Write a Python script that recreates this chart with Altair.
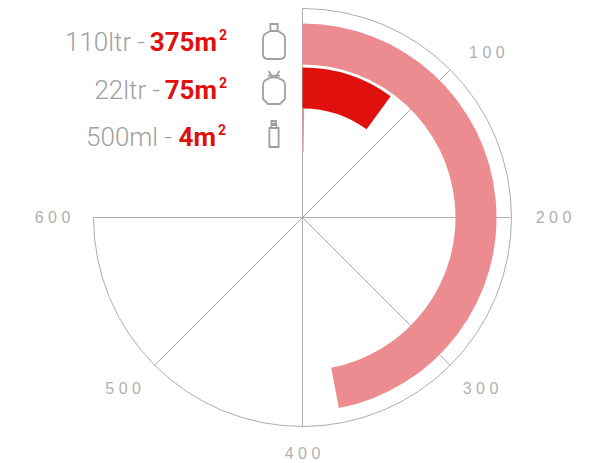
import math
import altair as alt
import pandas as pd

# ---- values
sizes = ["110ltr -", "22ltr -", "500ml -"]
area_labels = ["375m", "75m", "4m"]
bar_values = [376, 80, 2]
tick_values = [100, 200, 300, 400, 500, 600]
spoke_values = [100, 200, 300, 400, 500]
tick_labels = ["1 0 0", "2 0 0", "3 0 0", "4 0 0", "5 0 0", "6 0 0"]

# ---- layout and style (page px minus 8px margin applied below)
M = 8
CX, CY = 302.5 - M, 217.5 - M
OUTER = 209
rings = [(194, 153, "#ED8C90"), (150, 109, "#E0100F"), (109, 65, "#ED8C90")]
tick_radius = [248, 251, 249, 236, 248, 249]
tick_dx = [9, 0, 2, 0, -4, -1]
tick_dy = [11, 0, -5, 0, -4, 0]
row_base = [51 - M, 99 - M, 146 - M]
gray_end = [145 - M, 160 - M, 172 - M]
red_end = [217 - M, 217 - M, 216 - M]
icon_y = [42 - M, 88 - M, 134 - M]
GRAY = "#a0a0a0"
LINE = "#adadad"

icons = [
    "M-.18-.55V-.9H.18V-.55M-.18-.55L-.45-.4Q-.55-.33-.55-.2V.6Q-.55.85-.3.85H.3Q.55.85.55.6V-.2Q.55-.33.45-.4L.18-.55Z",
    "M-.05-.5L-.27-.85M.05-.5L.27-.85M-.3-.62L.3-.62M-.18-.52L-.45-.38Q-.55-.3-.55-.15V.55L-.3.8H.3L.55.55V-.15Q.55-.3.45-.38L.18-.52Z",
    "M-.23-.3H.23V.65H-.23ZM-.13-.3V-.45H.12V-.3M-.13-.45V-.65H.1V-.52H-.13",
]

theta_scale = alt.Scale(domain=[0, 600], range=[0, 3 * math.pi / 2])
cx, cy = alt.value(CX), alt.value(CY)
base = alt.Chart(pd.DataFrame({"a": [0]}))

layers = []

# outer wedge, 0 to 600
layers.append(
    base.mark_arc(filled=False, stroke=LINE, strokeWidth=1).encode(
        theta=alt.Theta(datum=0, scale=theta_scale),
        theta2=alt.Theta2(datum=600),
        radius=alt.value(OUTER),
        radius2=alt.value(0),
        x=cx, y=cy,
    )
)
# spokes
for v in spoke_values:
    layers.append(
        base.mark_arc(filled=False, stroke=LINE, strokeWidth=0.8).encode(
            theta=alt.Theta(datum=v, scale=theta_scale),
            theta2=alt.Theta2(datum=v),
            radius=alt.value(OUTER),
            radius2=alt.value(0),
            x=cx, y=cy,
        )
    )
# bars
for v, (r1, r0, col) in zip(bar_values, rings):
    layers.append(
        base.mark_arc(color=col).encode(
            theta=alt.Theta(datum=0, scale=theta_scale),
            theta2=alt.Theta2(datum=v),
            radius=alt.value(r1),
            radius2=alt.value(r0),
            x=cx, y=cy,
        )
    )
# tick labels
for v, lab, r, dx, dy in zip(tick_values, tick_labels, tick_radius, tick_dx, tick_dy):
    layers.append(
        base.mark_text(font="Liberation Sans", fontSize=16, color="#b0b0b0", baseline="middle", align="center", dx=dx, dy=dy).encode(
            theta=alt.Theta(datum=v, scale=theta_scale),
            radius=alt.value(r),
            x=cx, y=cy,
            text=alt.value(lab),
        )
    )
# legend rows
for i, (s, a) in enumerate(zip(sizes, area_labels)):
    layers.append(
        base.mark_text(font="Roboto", fontWeight=300, fontSize=26, color=GRAY, align="right", baseline="alphabetic").encode(
            x=alt.value(gray_end[i]), y=alt.value(row_base[i]), text=alt.value(s)
        )
    )
    layers.append(
        base.mark_text(font="Roboto", fontWeight="bold", fontSize=26, color="#E0100F", align="right", baseline="alphabetic").encode(
            x=alt.value(red_end[i]), y=alt.value(row_base[i]), text=alt.value(a)
        )
    )
    layers.append(
        base.mark_text(font="Roboto", fontWeight="bold", fontSize=14, color="#E0100F", align="left", baseline="alphabetic").encode(
            x=alt.value(red_end[i] + 2), y=alt.value(row_base[i] - 11), text=alt.value("2")
        )
    )
    layers.append(
        base.mark_point(shape=icons[i], size=1600, filled=False, stroke=GRAY, strokeWidth=1.8, opacity=1).encode(
            x=alt.value(274 - M), y=alt.value(icon_y[i])
        )
    )

chart = (
    alt.layer(*layers)
    .resolve_scale(theta="shared")
    .properties(width=579, height=455, padding=0, autosize=alt.AutoSizeParams(type="none"), background="white")
    .configure_view(stroke=None)
)
chart.save("out.html", embed_options={"renderer": "svg", "actions": False})
